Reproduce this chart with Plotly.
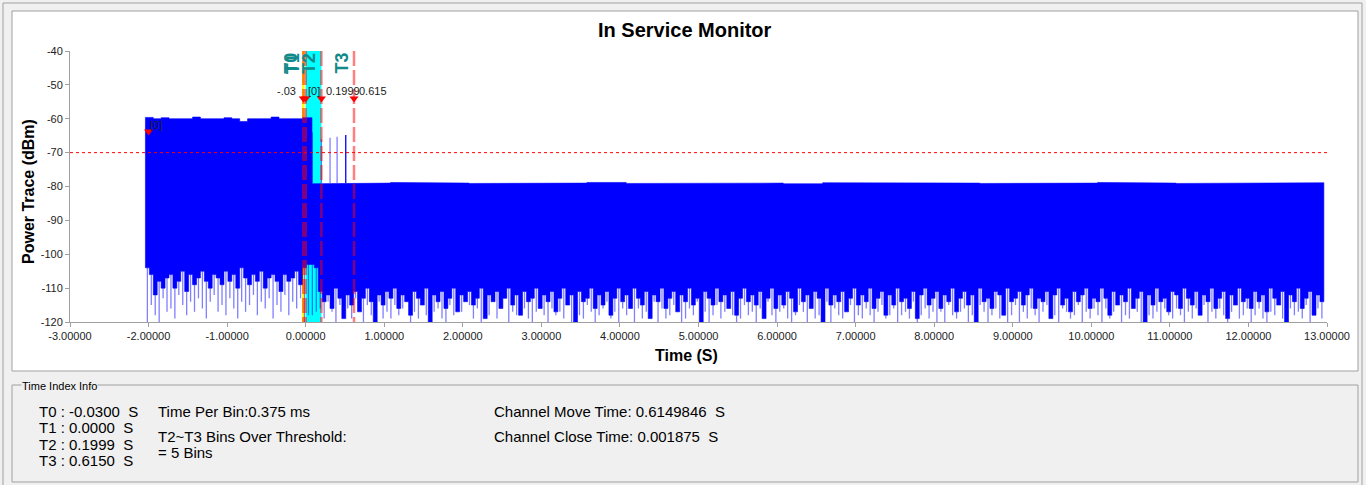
import plotly.graph_objects as go

# ---------------- page / plot geometry ----------------
W, H = 1366, 485
PL, PR, PT, PB = 70, 1327, 51, 322          # plot area box (page pixels)
FONT = "Liberation Sans, Arial, sans-serif"

# ---------------- texts & ticks ----------------
title_text = "In Service Monitor"
x_title = "Time (S)"
y_title = "Power Trace (dBm)"
x_tick_vals = [-3, -2, -1, 0, 1, 2, 3, 4, 5, 6, 7, 8, 9, 10, 11, 12, 13]
y_tick_vals = [-120, -110, -100, -90, -80, -70, -60, -50, -40]
x_range = [-3, 13]
y_range = [-120, -40]

# ---------------- markers ----------------
marker_names = ["T0", "T1", "T2", "T3"]
marker_times = [-0.0300, 0.0000, 0.1999, 0.6150]
marker_tags = ["-.03", "[0]", "0.1999", "0.615"]
marker_level = -54.0
marker_tag_level = -51.8
threshold_dbm = -70.0
ref_point_t = -2.0
ref_point_v = -63.8
ref_point_tag = "[0]"
ref_tag_v = -61.8

# ---------------- info panel values ----------------
time_per_bin_ms = 0.375
bins_over_threshold = 5
channel_move_time = "0.6149846"
channel_close_time = "0.001875"

# ---------------- power trace ----------------
# segment A : signal on the old channel
seg_a_start, seg_a_end = -2.04, 0.08
top_a_step = 0.1
top_a = [-59.6, -60.0, -59.7, -60.0, -59.8, -60.0, -59.5, -60.0, -59.8, -60.0,
         -59.7, -60.0, -60.8, -60.0, -59.8, -60.0, -59.5, -60.0, -59.8, -60.0,
         -59.7]
bin_step = 0.05
floor_a = [-104, -106, -112, -108, -110, -107, -106, -110, -108, -105,
           -111, -106, -109, -107, -105, -108, -110, -106, -107, -109,
           -105, -108, -106, -110, -104, -107, -109, -106, -108, -105,
           -110, -107, -106, -108, -111, -106, -108, -107, -105, -109,
           -104, -103]
spike_a = [-120, -115, -118, -120, -113, -117, -116, -119, -112, -115,
           -118, -114, -117, -113, -116, -119, -114, -112, -117, -115,
           -118, -113, -116, -119, -114, -117, -115, -112, -118, -114,
           -116, -113, -119, -115, -117, -112, -118, -114, -116, -113,
           -120, -118]

# segment B : residual power after the channel move
seg_b_start, seg_b_end = 0.08, 12.96
top_b_step = 0.5
top_b = [-79.2, -79.0, -78.8, -79.0, -79.1, -78.9, -79.0, -78.8, -79.1, -79.0,
         -78.9, -79.0, -79.2, -78.9, -79.0, -78.8, -79.0, -79.1, -78.9, -79.0,
         -78.8, -79.0, -79.1, -78.9, -79.0, -78.9]
floor_b_start = 0.06
floor_b = [
    -103, -104, -111, -114, -112, -116, -110, -113, -119, -112, -115, -111, -117, -113, -110, -114, -120, -112, -115, -111,
    -113, -110, -116, -112, -114, -118, -111, -113, -115, -110, -120, -112, -114, -111, -116, -113, -110, -117, -112, -114,
    -111, -115, -113, -110, -119, -112, -114, -111, -116, -113, -110, -115, -112, -118, -111, -114, -113, -110, -116, -112,
    -114, -111, -117, -113, -110, -115, -112, -120, -111, -114, -113, -110, -116, -112, -115, -111, -118, -113, -110, -114,
    -112, -116, -110, -113, -115, -111, -119, -112, -114, -110, -116, -113, -111, -117, -112, -114, -110, -115, -113, -120,
    -111, -113, -115, -110, -114, -112, -116, -111, -118, -113, -110, -114, -112, -115, -111, -119, -113, -110, -116, -112,
    -115, -111, -113, -117, -110, -114, -112, -116, -111, -113, -120, -110, -115, -112, -114, -111, -117, -113, -110, -115,
    -112, -114, -110, -116, -113, -111, -118, -112, -115, -110, -114, -113, -116, -111, -119, -112, -110, -115, -113, -111,
    -116, -112, -114, -110, -117, -113, -111, -115, -112, -120, -110, -114, -113, -116, -111, -112, -118, -110, -114, -113,
    -111, -115, -112, -110, -116, -113, -114, -111, -119, -112, -110, -115, -113, -117, -111, -114, -112, -110, -116, -113,
    -114, -110, -113, -118, -111, -115, -112, -114, -110, -116, -113, -111, -120, -112, -115, -110, -114, -113, -117, -111,
    -112, -116, -110, -113, -115, -111, -118, -112, -114, -110, -116, -113, -111, -119, -112, -115, -110, -114, -113, -116,
    -111, -114, -112, -117, -110, -113, -115, -111, -120, -112, -114, -110, -116, -113, -111, -118, -112, -114]
spike_b = [
    -118, -117, -116, -119, -114, -117, -120, -115, -118, -116, -119, -113, -117, -120, -115, -118, -116, -114, -119, -117,
    -119, -115, -118, -116, -113, -120, -117, -119, -115, -118, -114, -117, -116, -119, -120, -115, -118, -116, -117, -114,
    -115, -119, -116, -120, -117, -118, -114, -119, -116, -113, -120, -117, -118, -115, -116, -119, -120, -117, -114, -118,
    -120, -116, -118, -117, -119, -114, -120, -116, -118, -119, -115, -117, -120, -118, -116, -114, -119, -117, -120, -116,
    -118, -115, -120, -116, -119, -117, -118, -114, -120, -116, -119, -118, -115, -117, -120, -119, -116, -118, -114, -120,
    -117, -120, -118, -115, -119, -117, -116, -118, -120, -119, -115, -118, -117, -120, -116, -119, -114, -118, -120, -117,
    -116, -119, -120, -118, -115, -117, -120, -116, -119, -118, -117, -114, -120, -116, -118, -119, -117, -115, -120, -118,
    -119, -116, -118, -120, -117, -115, -119, -118, -116, -120, -118, -117, -119, -114, -120, -118, -116, -119, -117, -120,
    -117, -120, -115, -118, -119, -117, -116, -120, -118, -119, -115, -117, -120, -118, -116, -119, -117, -120, -118, -115,
    -120, -117, -119, -116, -118, -120, -117, -115, -119, -118, -120, -116, -117, -119, -118, -115, -120, -117, -119, -116,
    -118, -120, -116, -119, -117, -115, -120, -118, -119, -116, -117, -120, -115, -118, -119, -117, -120, -116, -118, -119,
    -116, -118, -120, -117, -119, -116, -118, -115, -120, -117, -119, -116, -118, -120, -117, -115, -119, -118, -116, -120,
    -118, -116, -119, -120, -117, -118, -115, -119, -120, -116, -118, -117, -119, -115, -120, -118, -116, -119]

# bins over threshold between T2 and T3 (and the falling edge)
burst_base = -79.0
burst_t_light = [0.085, 0.20, 0.31, 0.40]
burst_v_light = [-64.0, -66.0, -65.6, -65.3]
burst_t_dark = [0.51]
burst_v_dark = [-64.8]

# ---------------- helpers ----------------
def px_x(px):
    return (px - PL) / (PR - PL)

def px_y(py):
    return (PB - py) / (PB - PT)

def steps(start, step, vals, end=None):
    xs, ys = [], []
    n = len(vals)
    for i, v in enumerate(vals):
        t0 = start + i * step
        t1 = end if (end is not None and i == n - 1) else start + (i + 1) * step
        xs += [t0, t1]
        ys += [v, v]
    return xs, ys

def hang(start, step, floors, spikes):
    xs, ys = [], []
    for i, (f, s) in enumerate(zip(floors, spikes)):
        if s < f:
            t = start + (i + 0.5) * step
            xs += [t, t, None]
            ys += [f, s, None]
    return xs, ys

def sticks(ts, vs, base):
    xs, ys = [], []
    for t, v in zip(ts, vs):
        xs += [t, t, None]
        ys += [base, v, None]
    return xs, ys

fig = go.Figure()

# light spikes hanging below the jagged floor
lx1, ly1 = hang(seg_a_start, bin_step, floor_a, spike_a)
lx2, ly2 = hang(floor_b_start, bin_step, floor_b, spike_b)
fig.add_trace(go.Scatter(x=lx1 + lx2, y=ly1 + ly2, mode="lines",
                         line=dict(color="rgba(0,0,255,0.5)", width=1.3),
                         hoverinfo="skip", showlegend=False))

# body polygon: top envelope forward, jagged floor backward
xa, ya = steps(seg_a_start, top_a_step, top_a, seg_a_end)
xb, yb = steps(seg_b_start, top_b_step, top_b, seg_b_end)
fxa, fya = steps(seg_a_start, bin_step, floor_a)
fxb, fyb = steps(floor_b_start, bin_step, floor_b, seg_b_end)
fx = fxa + fxb
fy = fya + fyb
poly_x = xa + xb + fx[::-1] + [xa[0]]
poly_y = ya + yb + fy[::-1] + [ya[0]]
fig.add_trace(go.Scatter(x=poly_x, y=poly_y, mode="lines", fill="toself",
                         fillcolor="#0000ff", line=dict(color="#0000ff", width=0.6),
                         hoverinfo="skip", showlegend=False))

# bursts over threshold
bx, by = sticks(burst_t_light, burst_v_light, burst_base)
fig.add_trace(go.Scatter(x=bx, y=by, mode="lines",
                         line=dict(color="rgba(0,0,255,0.5)", width=1.3),
                         hoverinfo="skip", showlegend=False))
bx, by = sticks(burst_t_dark, burst_v_dark, burst_base)
fig.add_trace(go.Scatter(x=bx, y=by, mode="lines",
                         line=dict(color="#0000ff", width=1.3),
                         hoverinfo="skip", showlegend=False))

# marker triangles
fig.add_trace(go.Scatter(x=marker_times + [ref_point_t],
                         y=[marker_level] * len(marker_times) + [ref_point_v],
                         mode="markers",
                         marker=dict(symbol="triangle-down", size=8, color="#ff0000"),
                         hoverinfo="skip", showlegend=False))

shapes = []
# background panels (page pixels -> paper)
shapes.append(dict(type="rect", xref="paper", yref="paper", layer="below",
                   x0=px_x(3), x1=px_x(1362), y0=px_y(490), y1=px_y(3),
                   line=dict(color="#a0a0a0", width=1), fillcolor="#f0f0f0"))
shapes.append(dict(type="rect", xref="paper", yref="paper", layer="below",
                   x0=px_x(12), x1=px_x(1358), y0=px_y(371), y1=px_y(11),
                   line=dict(color="#a0a0a0", width=1), fillcolor="#ffffff"))
shapes.append(dict(type="rect", xref="paper", yref="paper", layer="below",
                   x0=px_x(12), x1=px_x(1358), y0=px_y(482), y1=px_y(385),
                   line=dict(color="#a0a0a0", width=1), fillcolor="rgba(0,0,0,0)"))
# cyan T1-T2 window
shapes.append(dict(type="rect", xref="x", yref="y", layer="below",
                   x0=marker_times[1], x1=marker_times[2], y0=y_range[0], y1=y_range[1],
                   line=dict(width=0), fillcolor="#00ffff"))
# yellow reference under T0
shapes.append(dict(type="line", xref="x", yref="y", layer="below",
                   x0=marker_times[0], x1=marker_times[0], y0=y_range[1], y1=y_range[0],
                   line=dict(color="#ffff00", width=2.5)))
# threshold
shapes.append(dict(type="line", xref="x", yref="y",
                   x0=x_range[0], x1=x_range[1], y0=threshold_dbm, y1=threshold_dbm,
                   line=dict(color="#ff0000", width=1, dash="3px,3px")))
# marker lines
for t in marker_times:
    shapes.append(dict(type="line", xref="x", yref="y",
                       x0=t, x1=t, y0=y_range[1], y1=y_range[0],
                       line=dict(color="rgba(255,0,0,0.5)", width=2.5, dash="15px,4px")))

ann = []
def txt(text, x, y, size, xanchor="left", yanchor="middle", color="#000000", **kw):
    ann.append(dict(text=text, x=x, y=y, xref="paper", yref="paper", showarrow=False,
                    xanchor=xanchor, yanchor=yanchor,
                    font=dict(family=FONT, size=size, color=color), **kw))

txt("<b>%s</b>" % title_text, px_x(685), px_y(30), 20, xanchor="center")
txt("<b>%s</b>" % x_title, px_x(686), px_y(355), 16, xanchor="center")
txt("<b>%s</b>" % y_title, px_x(28), px_y(192), 16, xanchor="center", textangle=-90)

# marker name labels (rotated, teal)
for name, t in zip(marker_names, marker_times):
    ann.append(dict(text="<b>%s</b>" % name, x=t, y=1, xref="x", yref="paper",
                    showarrow=False, textangle=-90, xanchor="right", yanchor="top",
                    xshift=-1, yshift=0,
                    font=dict(family=FONT, size=18, color="#108a8a")))
# marker value tags
for i, (tag, t) in enumerate(zip(marker_tags, marker_times)):
    ann.append(dict(text=tag, x=t, y=marker_tag_level, xref="x", yref="y",
                    showarrow=False, xanchor="right" if i == 0 else "left",
                    yanchor="middle", xshift=-5 if i == 0 else (0 if i == 1 else 3),
                    font=dict(family=FONT, size=11, color="#222222")))
ann.append(dict(text=ref_point_tag, x=ref_point_t, y=ref_tag_v, xref="x", yref="y",
                showarrow=False, xanchor="left", yanchor="middle", xshift=-1,
                font=dict(family=FONT, size=11, color="#222222")))

# info panel
txt("Time Index Info", px_x(21), px_y(385.5), 11, bgcolor="#f0f0f0", borderpad=0)
row_y = [411, 427.7, 444.3, 460]
for name, t, yy in zip(marker_names, marker_times, row_y):
    txt("%s : %.4f\u00a0 S" % (name, t), px_x(37), px_y(yy), 15)
txt("Time Per Bin:%g ms" % time_per_bin_ms, px_x(156), px_y(411), 15)
txt("T2~T3 Bins Over Threshold:", px_x(156), px_y(436.5), 15)
txt("= %d Bins" % bins_over_threshold, px_x(156), px_y(452.7), 15)
txt("Channel Move Time: %s\u00a0 S" % channel_move_time, px_x(492), px_y(411), 15)
txt("Channel Close Time: %s\u00a0 S" % channel_close_time, px_x(492), px_y(436.5), 15)

axis_common = dict(showgrid=False, zeroline=False, showline=True, linecolor="#a0a0a0",
                   linewidth=1, ticks="outside", ticklen=4, tickcolor="#a0a0a0",
                   tickfont=dict(family=FONT, size=11, color="#222222"))
fig.update_layout(
    width=W, height=H, autosize=False,
    margin=dict(l=PL, r=W - PR, t=PT, b=H - PB, pad=0),
    paper_bgcolor="#f0f0f0", plot_bgcolor="#ffffff",
    showlegend=False, shapes=shapes, annotations=ann,
    xaxis=dict(range=x_range, tickvals=x_tick_vals,
               ticktext=["%.5f" % v for v in x_tick_vals], **axis_common),
    yaxis=dict(range=y_range, tickvals=y_tick_vals,
               ticktext=["%d" % v for v in y_tick_vals], **axis_common),
    hovermode=False,
)

fig.write_html("out.html", config={"displayModeBar": False},
               post_script="document.body.style.margin='0px';"
                           "document.body.style.padding='0px';"
                           "document.body.style.backgroundColor='#f0f0f0';")
